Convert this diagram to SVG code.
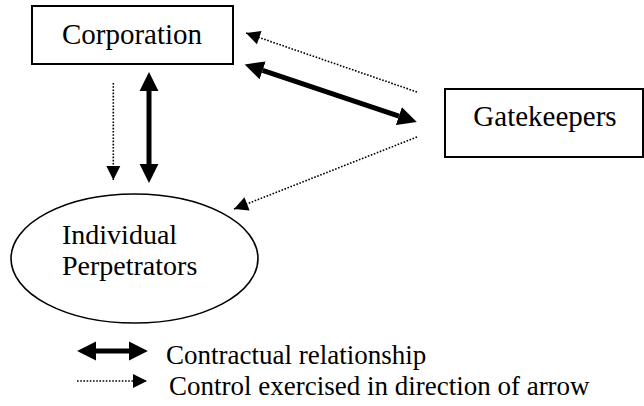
<svg xmlns="http://www.w3.org/2000/svg" width="644" height="406" viewBox="0 0 644 406">
<style>
  .box { fill: #fff; stroke: #000; stroke-width: 2; }
  .ell { fill: #fff; stroke: #000; stroke-width: 1.6; }
  .lbl { fill: #000; font-family: 'Liberation Serif', 'Times New Roman', serif; }
  .thick { stroke: #000; stroke-width: 5; fill: none; marker-start: url(#headThick); marker-end: url(#headThick); }
  .dot { stroke: #000; stroke-width: 1.6; stroke-dasharray: 1.6 1.6; fill: none; marker-end: url(#headDot); }
</style>
<defs>
  <marker id="headThick" markerUnits="userSpaceOnUse" markerWidth="20" markerHeight="20" viewBox="0 -9 18 18" refX="0" refY="0" orient="auto-start-reverse">
    <path d="M0,-8.5 L17,0 L0,8.5 z" fill="#000"/>
  </marker>
  <marker id="headDot" markerUnits="userSpaceOnUse" markerWidth="16" markerHeight="16" viewBox="0 -8 15 16" refX="14" refY="0" orient="auto">
    <path d="M0,-7 L14,0 L0,7 z" fill="#000"/>
  </marker>
</defs>

<g id="connectors">
  <line class="dot" x1="113.3" y1="83" x2="113.3" y2="180"/>
  <line class="thick" x1="149" y1="91" x2="149" y2="164"/>
  <line class="dot" x1="417" y1="92" x2="246" y2="33"/>
  <line class="thick" x1="262.6" y1="70.4" x2="398.9" y2="116.1"/>
  <line class="dot" x1="417" y1="137" x2="234" y2="209"/>
</g>

<g id="corporation">
  <rect class="box" x="32" y="6" width="201" height="58"/>
  <text class="lbl" x="132" y="43.5" font-size="29" text-anchor="middle">Corporation</text>
</g>

<g id="gatekeepers">
  <rect class="box" x="445" y="89" width="198" height="68"/>
  <text class="lbl" x="545" y="125.5" font-size="29" text-anchor="middle">Gatekeepers</text>
</g>

<g id="individual-perpetrators">
  <ellipse class="ell" cx="134.5" cy="258.5" rx="123.5" ry="64.5"/>
  <text class="lbl" x="62" y="244" font-size="28">Individual</text>
  <text class="lbl" x="62" y="275" font-size="28">Perpetrators</text>
</g>

<g id="legend">
  <line class="thick" x1="96" y1="351" x2="129" y2="351"/>
  <text class="lbl" x="166" y="364" font-size="27">Contractual relationship</text>
  <line class="dot" x1="77" y1="381" x2="147" y2="381"/>
  <text class="lbl" x="169" y="395" font-size="27">Control exercised in direction of arrow</text>
</g>
</svg>
